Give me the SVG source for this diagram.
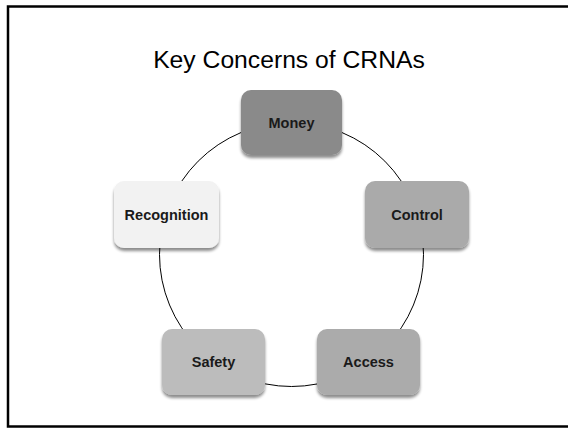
<svg xmlns="http://www.w3.org/2000/svg" width="568" height="429" viewBox="0 0 568 429">
  <defs>
    <filter id="shadow" x="-20%" y="-20%" width="140%" height="150%">
      <feGaussianBlur in="SourceAlpha" stdDeviation="1.6"/>
      <feOffset dx="0" dy="2.5" result="off"/>
      <feComponentTransfer><feFuncA type="linear" slope="0.45"/></feComponentTransfer>
      <feMerge><feMergeNode/><feMergeNode in="SourceGraphic"/></feMerge>
    </filter>
  </defs>
  <style>
    .frame { fill: #ffffff; stroke: #000000; stroke-width: 2.5; }
    .title { font-family: "Liberation Sans", Arial, sans-serif; font-size: 24.7px; fill: #000000; text-anchor: middle; }
    .box { filter: url(#shadow); }
    .label { font-family: "Liberation Sans", Arial, sans-serif; font-size: 14.5px; font-weight: bold; fill: #1a1a1a; text-anchor: middle; }
    .ring { fill: none; stroke: #000000; stroke-width: 1; }
  </style>

  <rect width="568" height="429" fill="#ffffff"/>
  <rect class="frame" x="8" y="6.5" width="570" height="420"/>

  <text class="title" x="289" y="68">Key Concerns of CRNAs</text>

  <!-- cycle ring joining the five nodes -->
  <g id="connectors">
    <circle class="ring" cx="291.5" cy="254.5" r="132"/>
  </g>

  <g id="money">
    <rect class="box" x="241" y="90" width="101" height="65" rx="10" fill="#8a8a8a"/>
    <text class="label" x="291.5" y="128">Money</text>
  </g>
  <g id="control">
    <rect class="box" x="365" y="181" width="104" height="67" rx="10" fill="#aaaaaa"/>
    <text class="label" x="417" y="220">Control</text>
  </g>
  <g id="access">
    <rect class="box" x="317" y="329" width="103" height="66" rx="10" fill="#ababab"/>
    <text class="label" x="368.5" y="367">Access</text>
  </g>
  <g id="safety">
    <rect class="box" x="162" y="329" width="103" height="66" rx="10" fill="#bcbcbc"/>
    <text class="label" x="213.5" y="367">Safety</text>
  </g>
  <g id="recognition">
    <rect class="box" x="114" y="181" width="105" height="67" rx="10" fill="#f2f2f2"/>
    <text class="label" x="166.5" y="220">Recognition</text>
  </g>
</svg>
